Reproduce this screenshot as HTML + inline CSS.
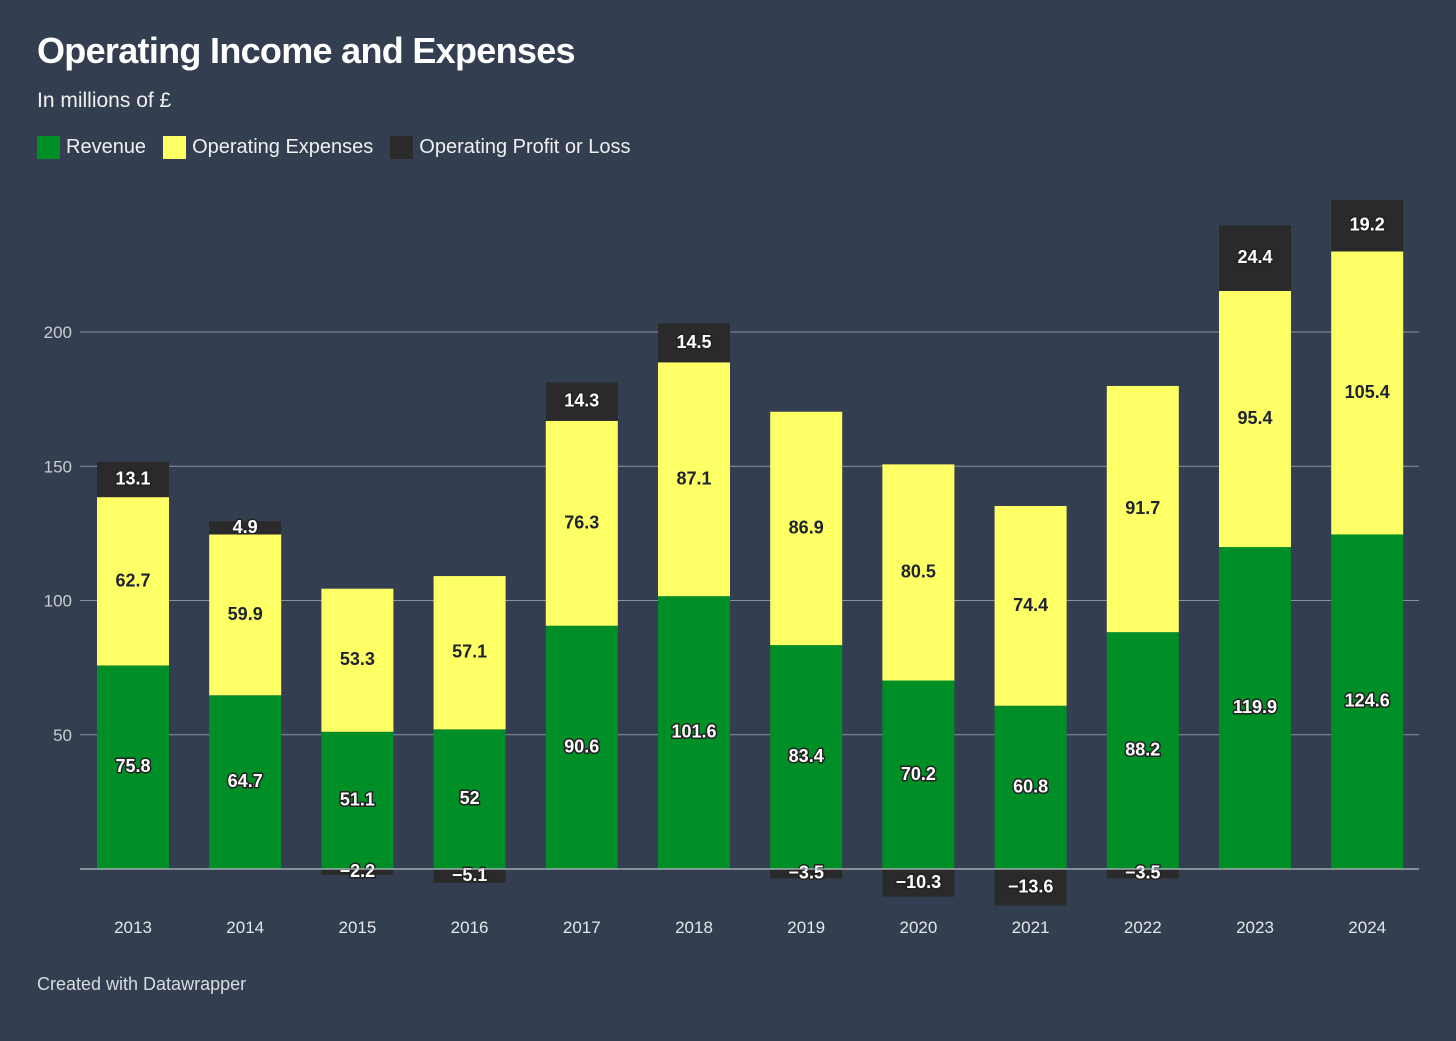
<!DOCTYPE html>
<html><head><meta charset="utf-8">
<style>
html,body{margin:0;padding:0;background:#333f50;}
body{width:1456px;height:1041px;position:relative;overflow:hidden;font-family:"Liberation Sans",sans-serif;color:#fff;}
.title{position:absolute;left:37px;top:30px;font-size:36px;font-weight:bold;letter-spacing:-0.7px;}
.sub{position:absolute;left:37px;top:89px;font-size:21px;color:#f0f0f0;}
.legend{position:absolute;left:37px;top:136px;font-size:20px;display:flex;gap:17px;color:#f0f0f0;}
.legend span{display:flex;align-items:center;gap:6px;}
.legend i{display:inline-block;width:23px;height:23px;}
.foot{position:absolute;left:37px;top:974px;font-size:18px;color:#d8dbe0;}
svg{position:absolute;left:0;top:0;}
</style></head><body>
<div class="title">Operating Income and Expenses</div>
<div class="sub">In millions of £</div>
<div class="legend">
<span><i style="background:#008f26"></i>Revenue</span>
<span><i style="background:#ffff66"></i>Operating Expenses</span>
<span><i style="background:#2a2a2a"></i>Operating Profit or Loss</span>
</div>
<svg id="chart" width="1456" height="1041"></svg>
<div class="foot">Created with Datawrapper</div>
<script>
const years=["2013","2014","2015","2016","2017","2018","2019","2020","2021","2022","2023","2024"];
const revenue=[75.8,64.7,51.1,52,90.6,101.6,83.4,70.2,60.8,88.2,119.9,124.6];
const expenses=[62.7,59.9,53.3,57.1,76.3,87.1,86.9,80.5,74.4,91.7,95.4,105.4];
const profit=[13.1,4.9,-2.2,-5.1,14.3,14.5,-3.5,-10.3,-13.6,-3.5,24.4,19.2];
const yTicks=[50,100,150,200];
const NS="http://www.w3.org/2000/svg";
const svg=document.getElementById('chart');
const y=v=>869-v*2.685;
const x=i=>133+i*112.2;
const bw=72;
function el(t,a){const e=document.createElementNS(NS,t);for(const k in a)e.setAttribute(k,a[k]);svg.appendChild(e);return e;}
yTicks.forEach(t=>{
 const l=el('line',{x1:80,x2:1419,y1:y(t),y2:y(t),stroke:'#8a929e','stroke-width':1});
 
 
 const tx=el('text',{x:72,y:y(t)+6,'text-anchor':'end','font-size':17,fill:'#c9ccd2'});
 tx.textContent=t;
 
 
});
function seg(i,v0,v1,color,name){
 const top=Math.min(y(v0),y(v1)),h=Math.abs(y(v1)-y(v0));
 const r=el('rect',{x:x(i)-bw/2,y:top,width:bw,height:h,fill:color});
 
 
 return top+h/2;
}
function lbl(i,cy,val,dark){
 const t=el('text',{x:x(i),y:cy+6,'text-anchor':'middle','font-size':18,'font-weight':'bold',fill:dark?'#1e2330':'#fff',
  stroke:dark?'none':'#222','stroke-width':dark?0:3,'paint-order':'stroke','stroke-linejoin':'round'});
 t.textContent=String(val).replace('-','\u2212');
 
 
}
years.forEach((yr,i)=>{
 const r=revenue[i],e=expenses[i],p=profit[i];
 const c1=seg(i,0,r,'#008f26','revenue');
 const c2=seg(i,r,r+e,'#ffff66','expenses');
 let c3;
 if(p>=0)c3=seg(i,r+e,r+e+p,'#2a2a2a','profit');
 else c3=seg(i,0,p,'#2a2a2a','profit');
 lbl(i,c1-1,r,false);lbl(i,c2-1,e,true);lbl(i,c3-1,p,false);
 const t=el('text',{x:x(i),y:933,'text-anchor':'middle','font-size':17,fill:'#e4e6ea'});
 t.textContent=yr;
 
 
});
const b=el('line',{x1:80,x2:1419,y1:869,y2:869,stroke:'#b9bec6','stroke-width':1.2});


</script>
</body></html>
